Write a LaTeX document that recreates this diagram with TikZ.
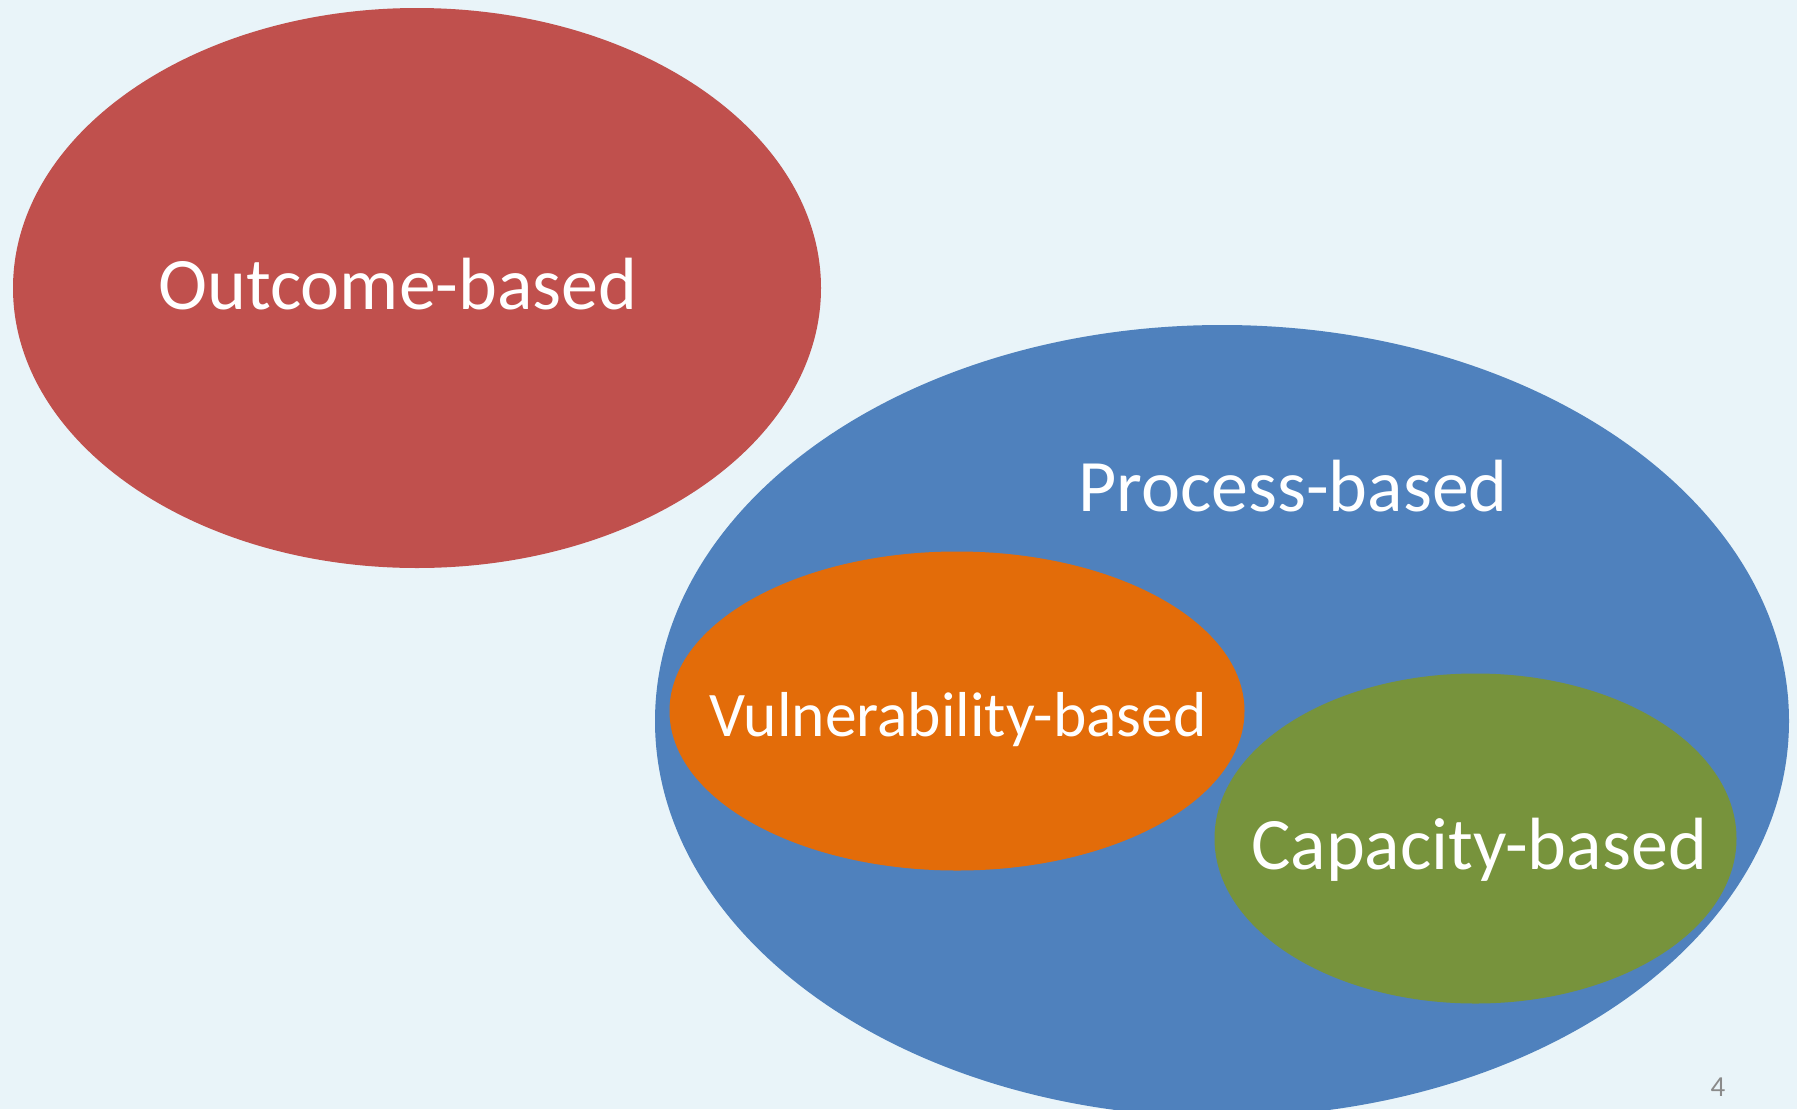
\documentclass[tikz,border=0pt]{standalone}
\usepackage{fontspec}
\setmainfont{Carlito}
\usetikzlibrary{shapes.geometric}
\definecolor{bgc}{HTML}{E9F4F9}
\definecolor{redc}{HTML}{C0504D}
\definecolor{bluec}{HTML}{4F81BD}
\definecolor{orangec}{HTML}{E36C09}
\definecolor{greenc}{HTML}{77933C}
\definecolor{numc}{HTML}{8A8A8A}
\tikzset{
  blob/.style={ellipse, draw=none, inner sep=0pt, outer sep=0pt},
  lbl/.style={text=white, inner sep=0pt, anchor=base, font=\fontsize{74}{80}\selectfont},
}
\begin{document}
\begin{tikzpicture}[x=1pt,y=-1pt]
\clip (0,0) rectangle (1797,1109);
\fill[bgc] (0,0) rectangle (1797,1109);
\node[blob, fill=redc, minimum width=808pt, minimum height=560pt] (outcome) at (417,288) {};
\node[blob, fill=bluec, minimum width=1134pt, minimum height=792pt] (process) at (1222,721) {};
\node[blob, fill=orangec, minimum width=575pt, minimum height=319pt] (vuln) at (957,711) {};
\node[blob, fill=greenc, minimum width=522pt, minimum height=330pt] (capacity) at (1475.5,838.5) {};
\node[lbl] (toutcome) at (398,309) {Outcome-based};
\node[lbl] (tprocess) at (1293,511.5) {Process-based};
\node[lbl, font=\fontsize{63.5}{70}\selectfont] (tvuln) at (958,736) {Vulnerability-based};
\node[lbl] (tcapacity) at (1479,869) {Capacity-based};
\node[anchor=base, inner sep=0pt, text=numc, font=\fontsize{29}{32}\selectfont] (pagenum) at (1718,1096) {4};
\end{tikzpicture}
\end{document}
